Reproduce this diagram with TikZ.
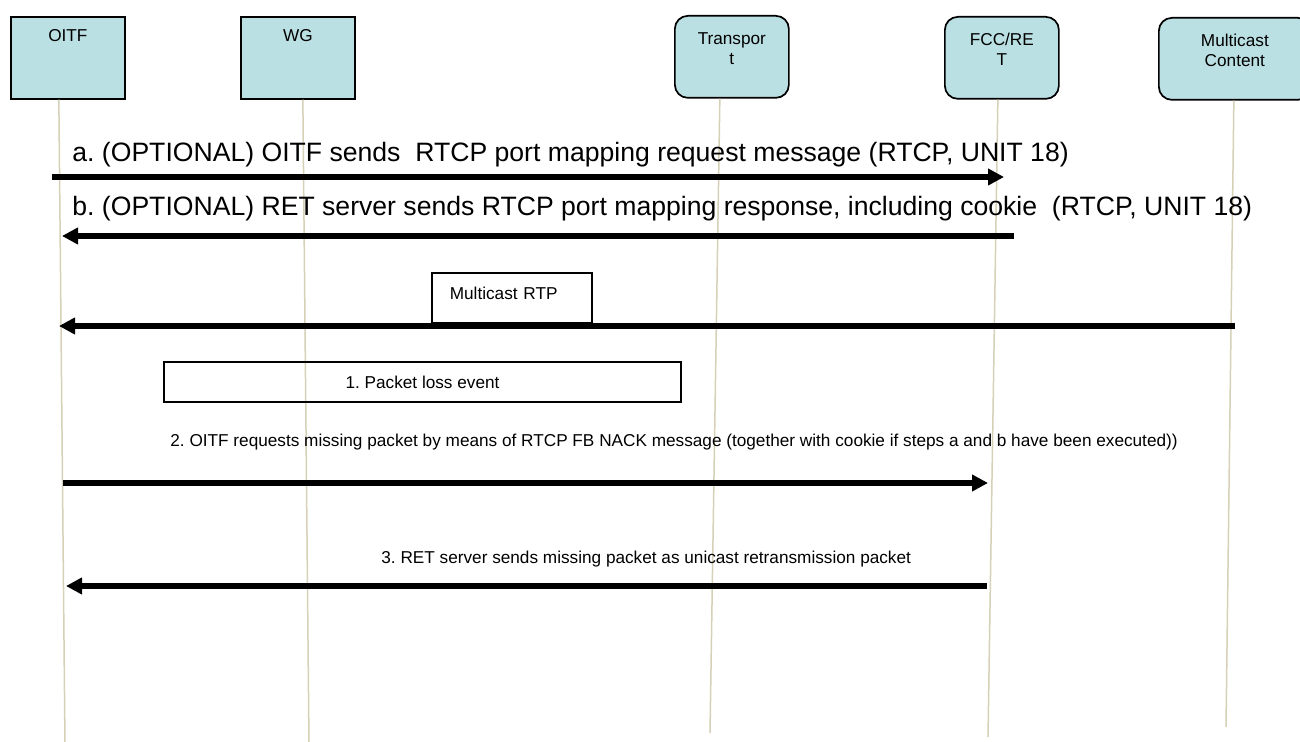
\documentclass[tikz,border=0pt]{standalone}
\usepackage{fontspec}
\setmainfont{Liberation Sans}
\usetikzlibrary{arrows.meta}
\definecolor{actorfill}{RGB}{187,224,227}
\definecolor{lifecol}{RGB}{214,208,182}
\frenchspacing

\begin{document}
\begin{tikzpicture}[x=0.5pt,y=-0.5pt]
\tikzstyle{every node}=[inner sep=0pt]
\tikzstyle{actor}=[draw,line width=0.85pt,fill=actorfill,anchor=north west,minimum width=57pt,minimum height=41pt]
\tikzstyle{rnd}=[actor,rounded corners=6.5pt]
\tikzstyle{lbl}=[anchor=north,yshift=-6.5pt,align=center,font=\fontsize{8.6}{10}\selectfont]
\tikzstyle{life}=[draw=lifecol,line width=0.75pt]
\tikzstyle{msg}=[draw,line width=2.7pt,-{Triangle[length=8pt,width=8pt]}]
\tikzstyle{big}=[font=\fontsize{13.3}{16}\selectfont]
\tikzstyle{small}=[font=\fontsize{8.6}{10}\selectfont]
\tikzstyle{note}=[draw,line width=0.8pt,small]

\useasboundingbox (0,0) rectangle (1300,742);

% actors
\node[actor,label={[lbl]north:OITF}] (oitf) at (10,16) {};
\node[actor,label={[lbl]north:WG}] (wg) at (240,16) {};
\node[rnd,label={[lbl,yshift=-2pt]north:Transpor\\t}] (transport) at (674,15) {};
\node[rnd,label={[lbl,yshift=-2pt]north:FCC/RE\\T}] (fccret) at (944,16) {};
\node[rnd,minimum width=76pt,label={[lbl,yshift=-2pt]north:Multicast\\Content}] (mccontent) at (1158,17) {};

% lifelines
\coordinate (oitf-end) at (65,745);
\coordinate (wg-end) at (309,745);
\coordinate (transport-end) at (710,733);
\coordinate (fccret-end) at (988,737);
\coordinate (mccontent-end) at (1226,727);
\path
([xshift=-4.5pt]oitf.south) edge[life] (oitf-end)
([xshift=2.5pt]wg.south) edge[life] (wg-end)
([xshift=-6pt]transport.south) edge[life] (transport-end)
([xshift=-2pt]fccret.south) edge[life] (fccret-end)
([xshift=-0.5pt]mccontent.south) edge[life] (mccontent-end)
;

% notes
\node[note,anchor=north west,inner xsep=9pt,text width=62pt,align=left,text height=13.5pt,text depth=11.5pt] (rtp) at (431,272) {Multicast RTP};
\node[note,minimum width=258.5pt,minimum height=20pt] (loss) at (422.5,382) {1. Packet loss event};

% message texts
\node[big,anchor=base west] (a-lbl) at (72,162) {a. (OPTIONAL) OITF sends\ \ RTCP port mapping request message (RTCP, UNIT 18)};
\node[big,anchor=base west] (b-lbl) at (72,216) {b. (OPTIONAL) RET server sends RTCP port mapping response, including cookie\ \ (RTCP, UNIT 18)};
\node[small,anchor=base west] (nack-lbl) at (170,447) {2. OITF requests missing packet by means of RTCP FB NACK message (together with cookie if steps a and b have been executed))};
\node[small,anchor=base west] (ret-lbl) at (381,563) {3. RET server sends missing packet as unicast retransmission packet};

% messages
\coordinate (a-from) at (52,177);
\coordinate (a-to) at (1004,177);
\coordinate (b-from) at (1014,236);
\coordinate (b-to) at (62,236);
\coordinate (rtp-from) at (1235,326);
\coordinate (rtp-to) at (59,326);
\coordinate (nack-from) at (63,483);
\coordinate (nack-to) at (988,483);
\coordinate (ret-from) at (987,586);
\coordinate (ret-to) at (66,586);
\path
(a-from) edge[msg] (a-to)
(b-from) edge[msg] (b-to)
(rtp-from) edge[msg] (rtp-to)
(nack-from) edge[msg] (nack-to)
(ret-from) edge[msg] (ret-to)
;
\end{tikzpicture}
\end{document}
